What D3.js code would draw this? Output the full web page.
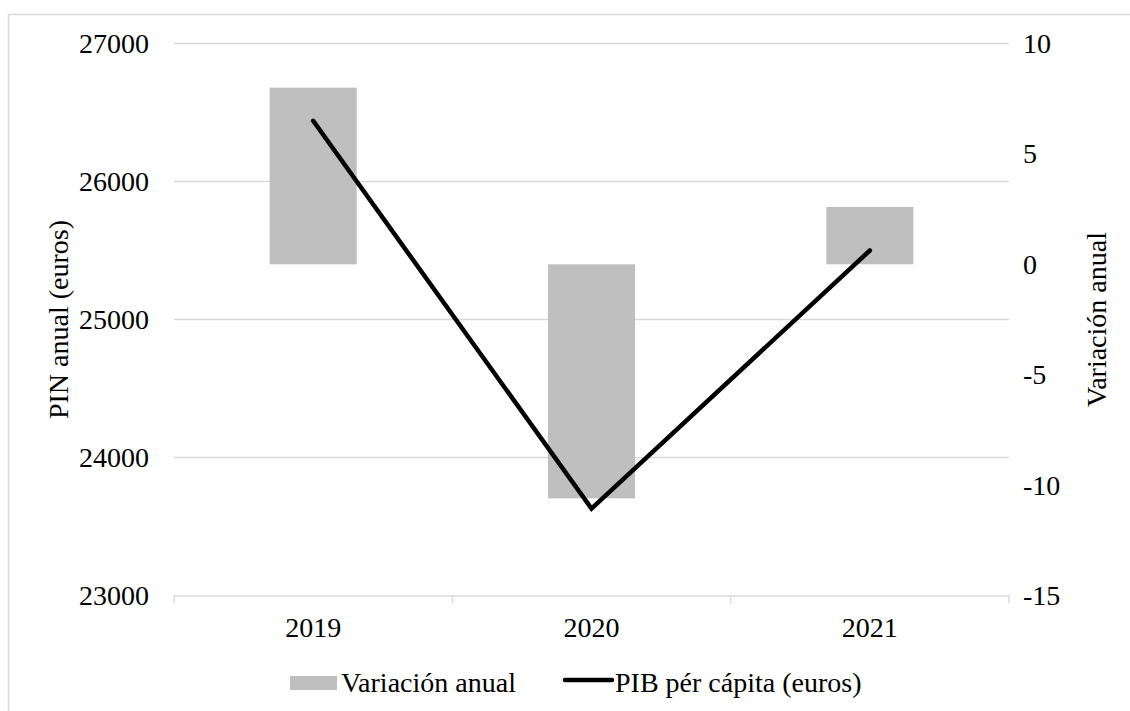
<!DOCTYPE html>
<html>
<head>
<meta charset="utf-8">
<script src="https://cdn.jsdelivr.net/npm/d3@7"></script>
<style>
  body { margin: 0; background: #fff; }
  svg text { font-family: 'Liberation Serif', 'Times New Roman', 'DejaVu Serif', serif !important; fill: #000; }
</style>
</head>
<body>
<svg id="chart" width="1130" height="711"></svg>
<script>
// data
var years = ["2019", "2020", "2021"];
var variacion = [8.0, -10.6, 2.6];          // right axis, bars
var pibPerCapita = [26440, 23630, 25500];   // left axis, line
var leftTicks = [23000, 24000, 25000, 26000, 27000];
var rightTicks = [-15, -10, -5, 0, 5, 10];

var svg = d3.select("#chart");
var plot = { left: 174, right: 1009, top: 43.5, bottom: 595.5 };
var fontSize = 28;
var serif = "'Liberation Serif', 'Times New Roman', serif";
var plain = function (d) { return String(d); }; // keeps the hyphen minus

// outer chart border (runs off right/bottom like the reference)
svg.append("rect")
	.attr("x", 8.5).attr("y", 14.5)
	.attr("width", 1140).attr("height", 720)
	.attr("fill", "none").attr("stroke", "#d9d9d9").attr("stroke-width", 1.5);

var x = d3.scaleBand().domain(years).range([plot.left, plot.right]).padding(0);
var yLeft = d3.scaleLinear().domain([23000, 27000]).range([plot.bottom, plot.top]);
var yRight = d3.scaleLinear().domain([-15, 10]).range([plot.bottom, plot.top]);

// gridlines
svg.append("g").selectAll("line")
	.data(leftTicks.slice(1))
	.join("line")
	.attr("x1", plot.left).attr("x2", plot.right)
	.attr("y1", function (d) { return yLeft(d); })
	.attr("y2", function (d) { return yLeft(d); })
	.attr("stroke", "#d9d9d9").attr("stroke-width", 1.5);

// category axis
var xAxis = svg.append("g")
	.attr("transform", "translate(0," + plot.bottom + ")")
	.call(d3.axisBottom(x).tickSize(0).tickPadding(22));
xAxis.attr("font-family", serif).attr("font-size", fontSize);
xAxis.select(".domain").attr("stroke", "#d9d9d9").attr("stroke-width", 1.5);
// boundary tick marks
var bounds = years.map(function (d) { return x(d); }).concat([plot.right]);
xAxis.selectAll(".bound")
	.data(bounds)
	.join("line")
	.attr("class", "bound")
	.attr("x1", function (d) { return d; }).attr("x2", function (d) { return d; })
	.attr("y1", 0).attr("y2", 8)
	.attr("stroke", "#d9d9d9").attr("stroke-width", 1.5);

// left axis labels
var lAxis = svg.append("g")
	.attr("transform", "translate(" + plot.left + ",0)")
	.call(d3.axisLeft(yLeft).tickValues(leftTicks).tickSize(0).tickPadding(25).tickFormat(plain));
lAxis.attr("font-family", serif).attr("font-size", fontSize);
lAxis.select(".domain").remove();

// right axis labels
var rAxis = svg.append("g")
	.attr("transform", "translate(" + plot.right + ",0)")
	.call(d3.axisRight(yRight).tickValues(rightTicks).tickSize(0).tickPadding(14).tickFormat(plain));
rAxis.attr("font-family", serif).attr("font-size", fontSize);
rAxis.select(".domain").remove();

// bars
var barW = x.bandwidth() * 0.313;
svg.append("g").selectAll("rect")
	.data(years)
	.join("rect")
	.attr("x", function (d) { return x(d) + (x.bandwidth() - barW) / 2; })
	.attr("width", barW)
	.attr("y", function (d, i) { return yRight(Math.max(0, variacion[i])); })
	.attr("height", function (d, i) { return Math.abs(yRight(variacion[i]) - yRight(0)); })
	.attr("fill", "#bfbfbf");

// line
var line = d3.line()
	.x(function (d, i) { return x(years[i]) + x.bandwidth() / 2; })
	.y(function (d) { return yLeft(d); });
svg.append("path")
	.datum(pibPerCapita)
	.attr("d", line)
	.attr("fill", "none").attr("stroke", "#000")
	.attr("stroke-width", 4.5).attr("stroke-linecap", "round").attr("stroke-linejoin", "miter");

// axis titles
var midY = (plot.top + plot.bottom) / 2;
svg.append("text")
	.attr("transform", "translate(68," + midY + ") rotate(-90)")
	.attr("text-anchor", "middle")
	.attr("font-size", fontSize)
	.text("PIN anual (euros)");
svg.append("text")
	.attr("transform", "translate(1106," + midY + ") rotate(-90)")
	.attr("text-anchor", "middle")
	.attr("font-size", fontSize)
	.text("Variación anual");

// legend
var legend = svg.append("g").attr("transform", "translate(0,683)").attr("font-size", fontSize);
legend.append("rect")
	.attr("x", 290).attr("y", -7).attr("width", 47).attr("height", 14)
	.attr("fill", "#bfbfbf");
legend.append("text")
	.attr("x", 341).attr("y", 9)
	.text("Variación anual");
legend.append("line")
	.attr("x1", 565).attr("x2", 612).attr("y1", -3).attr("y2", -3)
	.attr("stroke", "#000").attr("stroke-width", 4.5).attr("stroke-linecap", "round");
legend.append("text")
	.attr("x", 615).attr("y", 9)
	.text("PIB pér cápita (euros)");
</script>
</body>
</html>
